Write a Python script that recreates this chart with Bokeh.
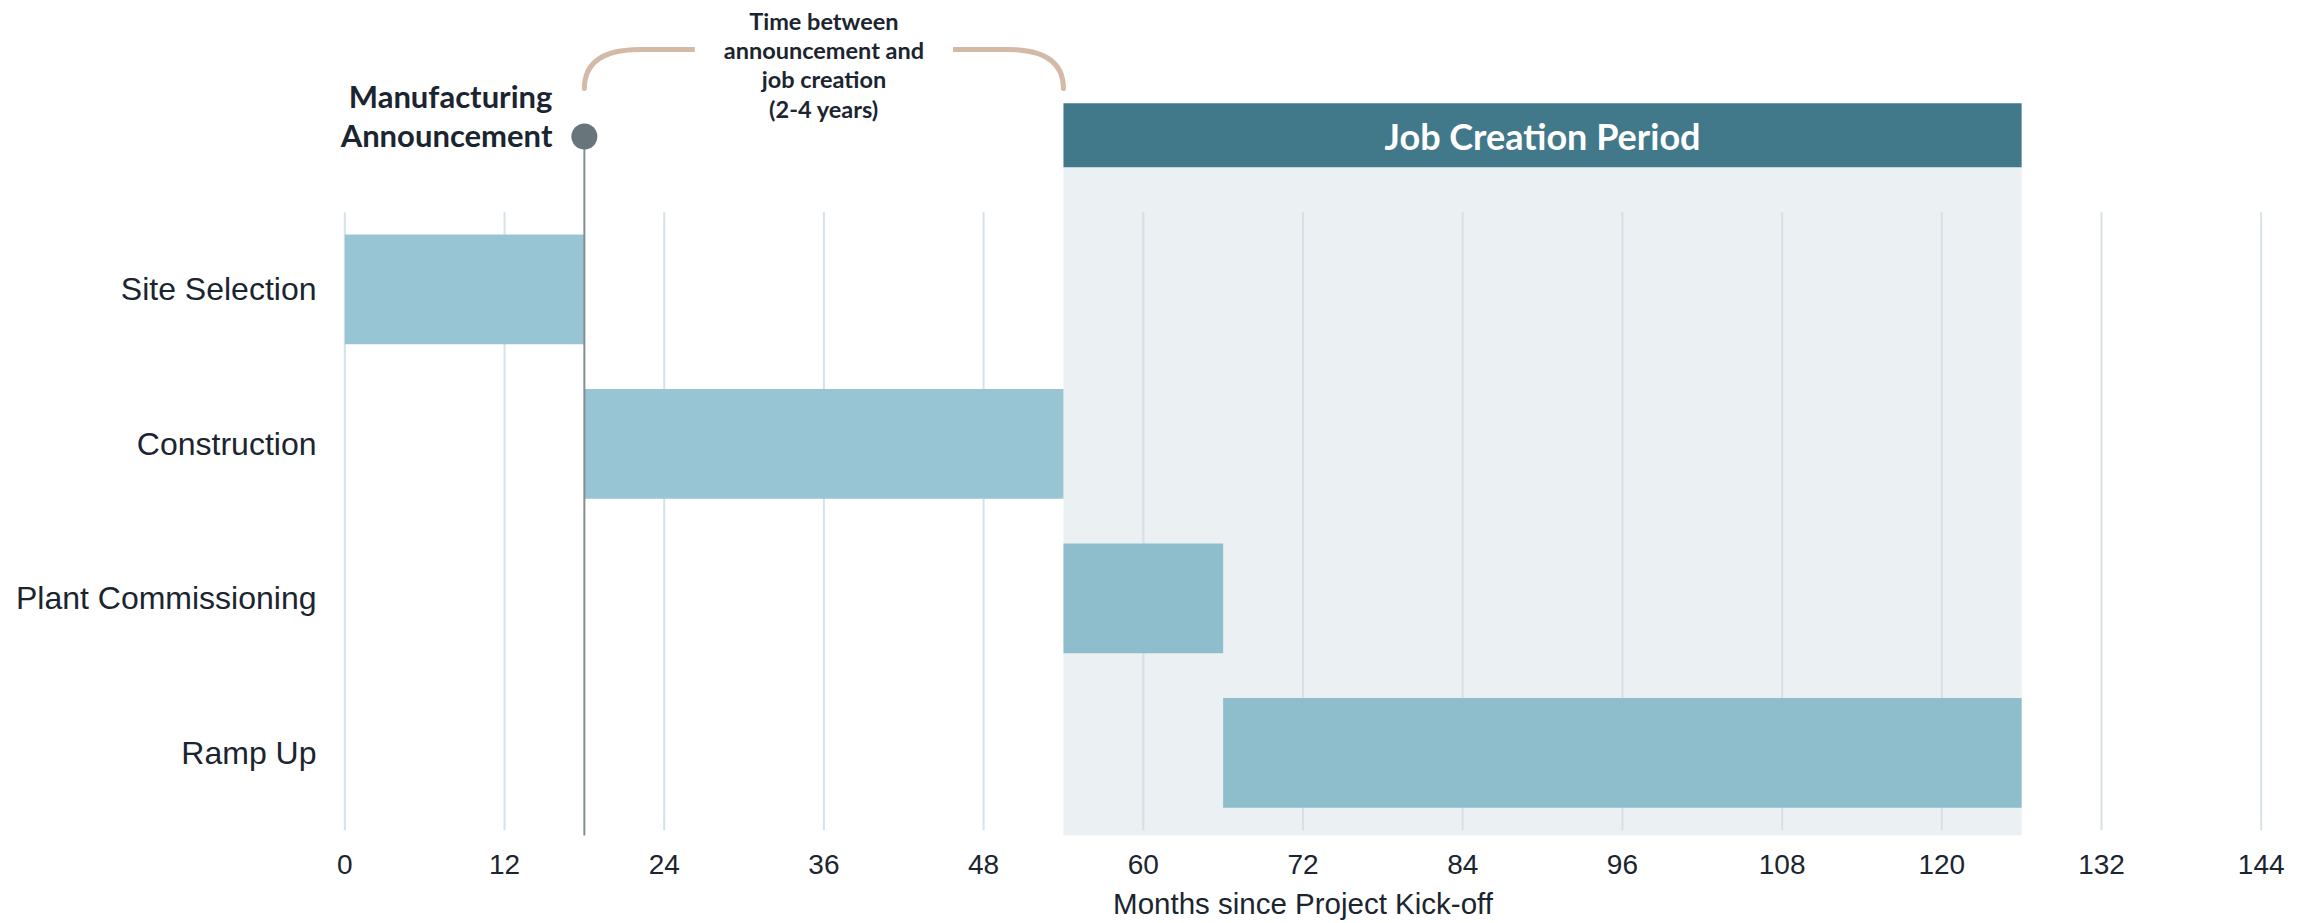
from bokeh.plotting import figure
from bokeh.models import Range1d, FixedTicker, ColumnDataSource
from bokeh.core.properties import value
from bokeh.embed import file_html
from bokeh.resources import INLINE

# ---------------- data ----------------
tasks = ["Site Selection", "Construction", "Plant Commissioning", "Ramp Up"]
task_start = [0, 18, 54, 66]
task_end = [18, 54, 66, 126]
x_ticks = [0, 12, 24, 36, 48, 60, 72, 84, 96, 108, 120, 132, 144]
announcement_month = 18
job_creation_start = 54
job_creation_end = 126
x_axis_title = "Months since Project Kick-off"
announcement_label = "Manufacturing\nAnnouncement"
gap_label = "Time between\nannouncement and\njob creation\n(2-4 years)"
job_period_label = "Job Creation Period"

# ---------------- style ----------------
TEXT = "#1b2530"
BAR_COLORS = ["#97c5d4", "#97c5d4", "#8ebdcc", "#8ebdcc"]
GRID = "#d3dee7"
SHADE = "#ebf0f2"
HEADER = "#41798b"
BRACKET = "#d4b9a6"
ANNOT_FONT = "Lato"
LABEL_FONT = "Liberation Sans"

rows = list(range(len(tasks)))

FRAME_H = 835
ROW_PX = 154.5
Y_TOP = -1.87

p = figure(width=2313, height=923, output_backend="svg", toolbar_location=None,
           x_range=Range1d(-1, 145), y_range=Range1d(Y_TOP + FRAME_H / ROW_PX, Y_TOP),
           min_border_left=331, min_border_right=39, min_border_top=0,
           min_border_bottom=923 - FRAME_H)
p.outline_line_color = None
p.grid.visible = False
p.background_fill_color = "white"
p.border_fill_color = "white"

# job creation shaded period
p.quad(left=[job_creation_start], right=[job_creation_end], top=[-0.79], bottom=[3.6],
       fill_color=SHADE, line_color=None)
# header bar
p.quad(left=[job_creation_start], right=[job_creation_end], top=[-1.205], bottom=[-0.79],
       fill_color=HEADER, line_color=None)
p.text(x=[(job_creation_start + job_creation_end) / 2], y=[-0.995], text=[job_period_label],
       text_font=value(ANNOT_FONT), text_font_style="bold", text_font_size="36px",
       text_color="white", text_align="center", text_baseline="middle")

# grid lines
p.segment(x0=x_ticks, x1=x_ticks, y0=[-0.5] * len(x_ticks), y1=[3.5] * len(x_ticks),
          line_color=GRID, line_width=2, line_alpha=0.9)

# bars
src = ColumnDataSource(dict(y=rows, left=task_start, right=task_end, color=BAR_COLORS))
p.hbar(y="y", left="left", right="right", height=0.71, fill_color="color",
       line_color=None, source=src)

# announcement line and dot
p.segment(x0=[announcement_month], x1=[announcement_month], y0=[-0.99], y1=[3.6],
          line_color="#858f93", line_width=2)
p.scatter(x=[announcement_month], y=[-0.99], size=26, fill_color="#68767b", line_color=None)
p.text(x=[announcement_month - 2.4], y=[-1.125], text=[announcement_label],
       text_font=value(ANNOT_FONT), text_font_style="bold", text_font_size="31px",
       text_color=TEXT, text_align="right", text_baseline="middle", text_line_height=1.03)

# bracket between announcement and job creation
top_y = -1.553
end_y = -1.30
r = 4.2
mid = (announcement_month + job_creation_start) / 2
half_gap = 9.7
p.quadratic(x0=[announcement_month, job_creation_start - r],
            y0=[end_y, top_y],
            x1=[announcement_month + r, job_creation_start],
            y1=[top_y, end_y],
            cx=[announcement_month, job_creation_start],
            cy=[top_y, top_y],
            line_color=BRACKET, line_width=5, line_cap="round")
p.segment(x0=[announcement_month + r, mid + half_gap], x1=[mid - half_gap, job_creation_start - r],
          y0=[top_y, top_y], y1=[top_y, top_y], line_color=BRACKET, line_width=5)
p.text(x=[mid], y=[-1.455], text=[gap_label],
       text_font=value(ANNOT_FONT), text_font_style="bold", text_font_size="23.5px",
       text_color=TEXT, text_align="center", text_baseline="middle", text_line_height=1.05)

# axes
xa = p.xaxis[0]
xa.ticker = FixedTicker(ticks=x_ticks)
xa.axis_label = x_axis_title
xa.axis_line_color = None
xa.major_tick_line_color = None
xa.minor_tick_line_color = None
xa.major_tick_out = 0
xa.major_tick_in = 0
xa.major_label_standoff = 19
xa.major_label_text_font = LABEL_FONT
xa.major_label_text_font_size = "28px"
xa.major_label_text_color = TEXT
xa.axis_label_text_font = LABEL_FONT
xa.axis_label_text_font_size = "29.5px"
xa.axis_label_text_font_style = "normal"
xa.axis_label_text_color = TEXT
xa.axis_label_standoff = 10

ya = p.yaxis[0]
ya.ticker = FixedTicker(ticks=rows)
ya.major_label_overrides = {i: t for i, t in zip(rows, tasks)}
ya.axis_line_color = None
ya.major_tick_line_color = None
ya.minor_tick_line_color = None
ya.major_tick_out = 0
ya.major_tick_in = 0
ya.major_label_standoff = 15
ya.major_label_text_font = LABEL_FONT
ya.major_label_text_font_size = "32px"
ya.major_label_text_color = TEXT

open("out.html", "w").write(file_html(p, INLINE))
